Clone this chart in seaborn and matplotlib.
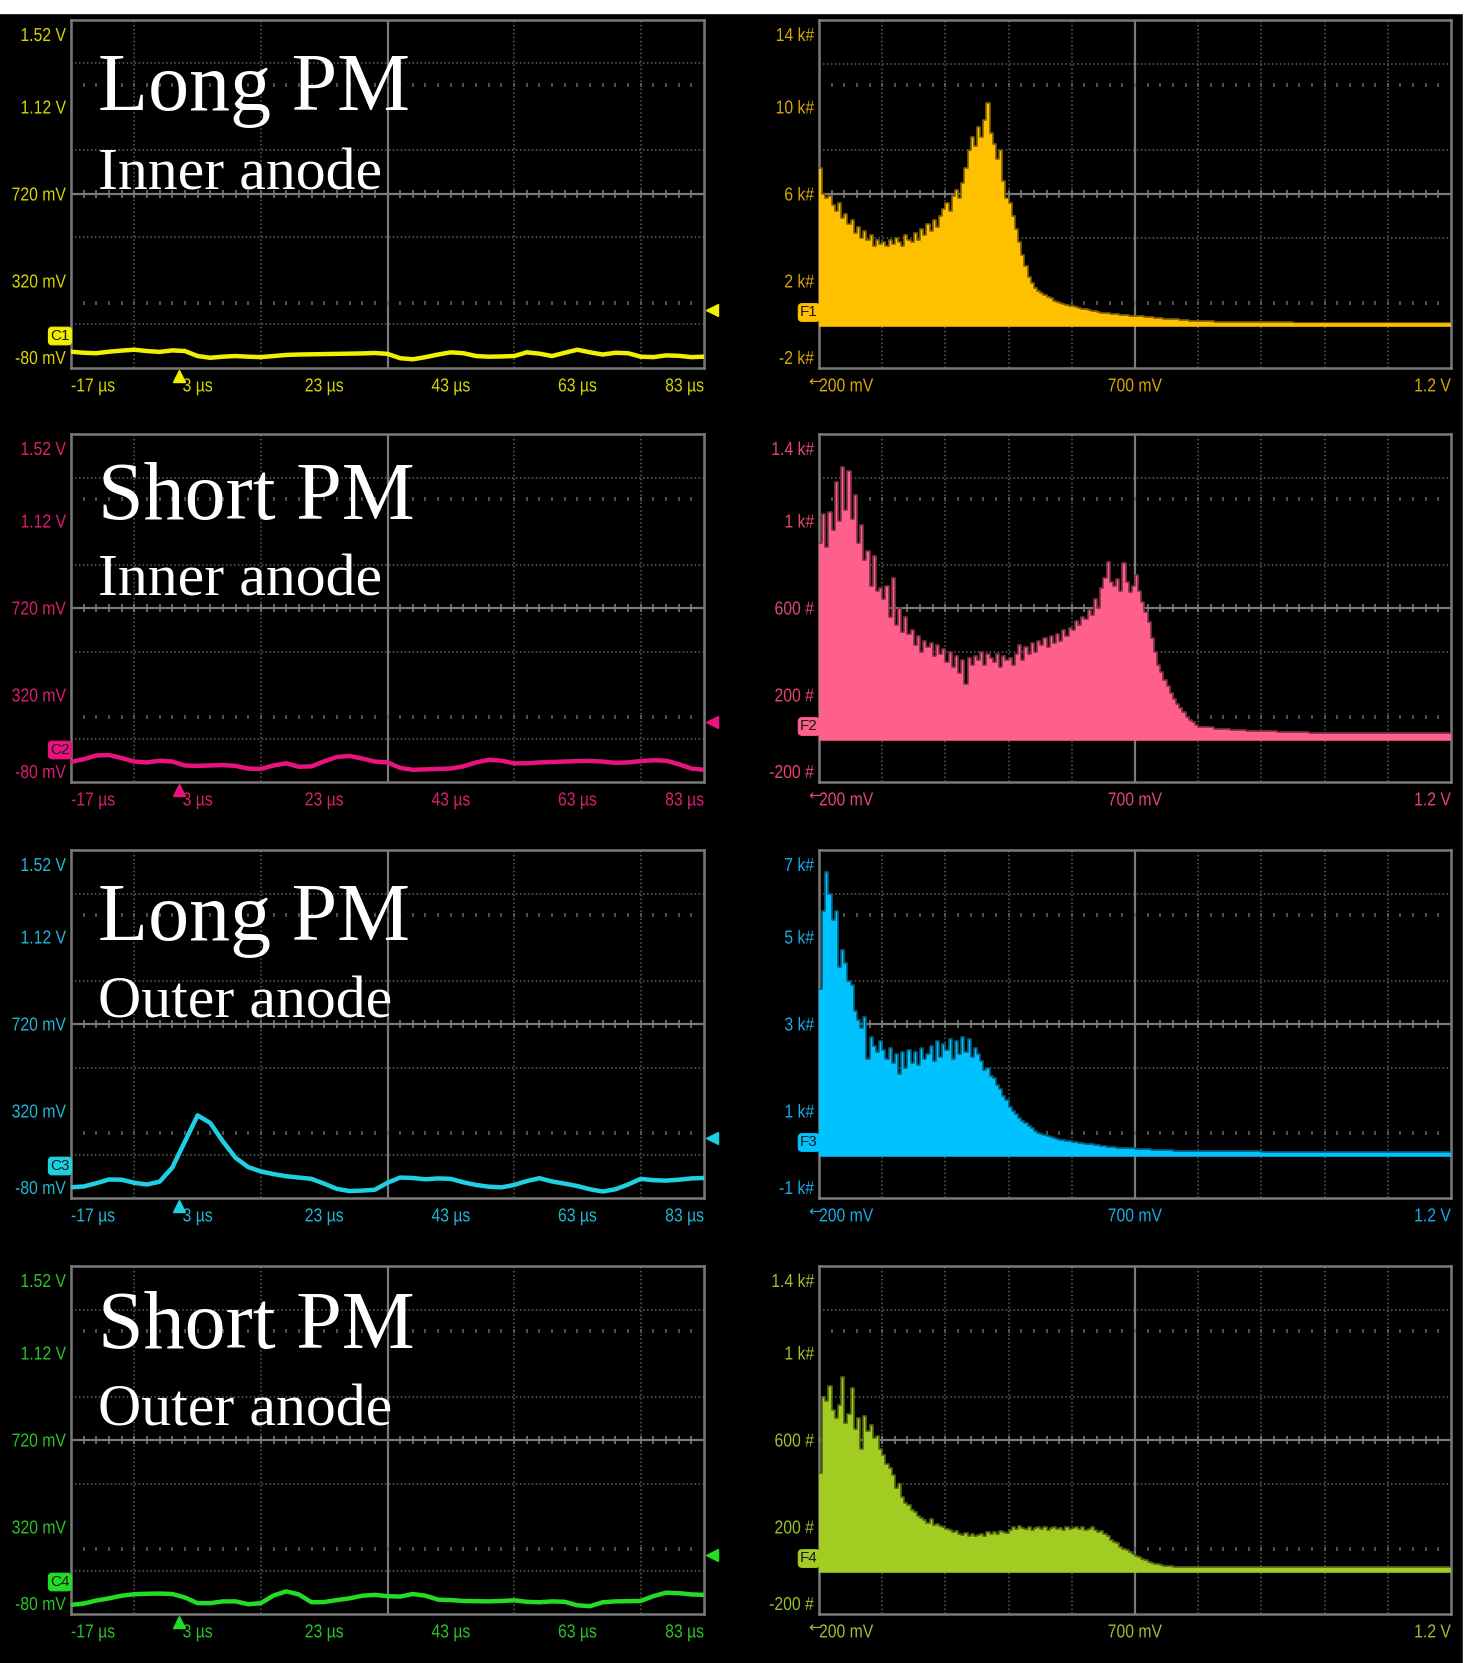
"""
Oscilloscope screenshots: PM anode signals (left) and their pulse-height
histograms (right), recreated with seaborn on a black scope-style canvas.
"""
import numpy as np
import pandas as pd
import matplotlib
matplotlib.use("Agg")
import matplotlib.pyplot as plt
import matplotlib.transforms as mtransforms
import matplotlib.patheffects as pe
from matplotlib.patches import Rectangle
import seaborn as sns

W, H = 1466, 1663

# ---- data -----------------------------------------------------------------
row_titles = ["Long PM", "Short PM", "Long PM", "Short PM"]
row_anodes = ["Inner anode", "Inner anode", "Outer anode", "Outer anode"]
trace_tags = ["C1", "C2", "C3", "C4"]
hist_tags = ["F1", "F2", "F3", "F4"]

t_us = [-17, -15, -13, -11, -9, -7, -5, -3, -1, 1, 3, 5, 7, 9, 11, 13, 15, 17,
        19, 21, 23, 25, 27, 29, 31, 33, 35, 37, 39, 41, 43, 45, 47, 49, 51, 53,
        55, 57, 59, 61, 63, 65, 67, 69, 71, 73, 75, 77, 79, 81, 83]

c1_mv = [-5, -10, -12, -5, 0, 4, -2, -6, 1, -2, -25, -33, -28, -25, -28, -30, -25,
         -20, -18, -17, -16, -15, -14, -13, -11, -15, -35, -40, -30, -18, -8, -12,
         -25, -28, -27, -25, -8, -14, -25, -10, 4, -8, -18, -10, -12, -28, -30, -22,
         -24, -30, -28]
c2_mv = [12, 25, 42, 44, 30, 14, 10, 18, 14, -4, -6, -4, -2, -6, -18, -20, -4, 6,
         -10, -8, 15, 35, 40, 28, 14, 10, -15, -24, -22, -20, -18, -8, 10, 22, 18,
         6, 6, 10, 12, 14, 16, 17, 14, 8, 10, 16, 20, 18, 2, -18, -24]
c3_mv = [-31, -27, -12, 5, 4, -10, -18, -5, 60, 180, 300, 265, 180, 105, 62, 42,
         30, 20, 14, 8, -14, -38, -48, -46, -42, -10, 14, 12, 6, 10, 8, -8, -20,
         -28, -31, -20, -2, 11, -4, -14, -25, -40, -50, -40, -18, 8, 2, 0, 4, 10, 12]
c4_mv = [-38, -32, -18, -8, 4, 11, 13, 14, 12, -4, -30, -30, -22, -22, -35, -30, 5,
         24, 10, -26, -25, -16, -8, 4, 8, 2, 0, 12, 4, -14, -16, -20, -21, -22, -20,
         -17, -24, -26, -22, -24, -40, -44, -26, -22, -21, -20, 2, 18, 16, 10, 8]

# histogram counts: 5 mV bins from 200 to 800 mV, then 25 mV bins to 1.2 V
f1_kcounts = [7.2, 6.0, 5.8, 5.9, 5.5, 5.2, 5.6, 4.9, 5.1, 4.6,
              4.8, 4.2, 4.5, 4.0, 4.3, 3.9, 4.1, 3.6, 3.9, 3.7,
              3.8, 3.6, 3.9, 3.7, 4.0, 3.8, 3.6, 4.1, 3.9, 3.8,
              4.2, 3.9, 4.4, 4.1, 4.6, 4.3, 4.8, 4.5, 5.0, 5.3,
              5.6, 5.2, 5.9, 6.2, 5.8, 6.5, 7.2, 8.0, 8.6, 8.2,
              9.1, 8.6, 9.4, 10.2, 8.8, 8.3, 7.6, 8.0, 6.6, 5.8,
              5.6, 5.0, 4.4, 3.8, 3.2, 2.7, 2.2, 1.9, 1.7, 1.55,
              1.45, 1.35, 1.25, 1.2, 1.1, 1.05, 1.0, 0.95, 0.9, 0.87,
              0.84, 0.8, 0.77, 0.72, 0.7, 0.66, 0.63, 0.6, 0.58, 0.55,
              0.53, 0.51, 0.5, 0.48, 0.46, 0.45, 0.44, 0.42, 0.41, 0.4,
              0.39, 0.38, 0.37, 0.36, 0.34, 0.33, 0.31, 0.3, 0.28, 0.27,
              0.26, 0.25, 0.24, 0.23, 0.22, 0.21, 0.2, 0.18, 0.17, 0.16,
              0.15, 0.13, 0.12, 0.11, 0.1, 0.1, 0.09, 0.09, 0.08, 0.08,
              0.08, 0.08, 0.08, 0.08, 0.08, 0.08]
f2_counts = [900, 1030, 880, 1040, 960, 1180, 1000, 1250, 1050, 1230,
             1010, 1120, 900, 980, 820, 860, 700, 840, 680, 690,
             640, 700, 560, 740, 520, 600, 490, 560, 480, 500,
             430, 470, 400, 450, 420, 440, 380, 430, 390, 410,
             350, 400, 330, 380, 300, 360, 250, 370, 340, 380,
             360, 400, 340, 390, 370, 350, 390, 330, 380, 360,
             370, 340, 390, 430, 360, 420, 390, 440, 400, 450,
             430, 460, 420, 470, 440, 480, 450, 500, 470, 510,
             500, 540, 520, 560, 550, 590, 570, 640, 600, 690,
             740, 812, 720, 700, 735, 680, 805, 720, 674, 700,
             751, 680, 628, 580, 535, 460, 397, 340, 305, 270,
             243, 210, 182, 160, 140, 120, 100, 85, 74, 62,
             52, 45, 40, 36, 33, 30, 28, 27, 26, 25,
             25, 25, 24, 24, 24, 24]
f3_kcounts = [3.8, 5.6, 6.5, 6.0, 5.4, 5.6, 4.3, 4.7, 4.4, 4.0,
              3.9, 3.3, 3.1, 2.9, 3.15, 2.2, 2.7, 2.5, 2.35, 2.6,
              2.4, 2.2, 2.45, 2.1, 2.3, 1.85, 2.35, 2.0, 2.4, 2.1,
              2.35, 2.05, 2.45, 2.2, 2.3, 2.5, 2.15, 2.6, 2.25, 2.55,
              2.4, 2.65, 2.2, 2.6, 2.3, 2.7, 2.35, 2.65, 2.25, 2.45,
              2.3, 2.15, 1.95, 2.0, 1.8, 1.75, 1.6, 1.5, 1.35, 1.25,
              1.1, 1.0, 0.92, 0.85, 0.78, 0.72, 0.66, 0.6, 0.55, 0.5,
              0.48, 0.45, 0.42, 0.4, 0.38, 0.36, 0.34, 0.33, 0.32, 0.3,
              0.29, 0.28, 0.27, 0.26, 0.25, 0.24, 0.23, 0.22, 0.21, 0.2,
              0.19, 0.18, 0.18, 0.17, 0.16, 0.16, 0.15, 0.15, 0.14, 0.14,
              0.13, 0.13, 0.12, 0.12, 0.12, 0.11, 0.11, 0.11, 0.1, 0.1,
              0.1, 0.1, 0.09, 0.09, 0.09, 0.09, 0.08, 0.08, 0.08, 0.08,
              0.08, 0.07, 0.07, 0.07, 0.06, 0.06, 0.06, 0.06, 0.06, 0.06,
              0.06, 0.06, 0.06, 0.06, 0.06, 0.06]
f4_counts = [450, 800, 780, 850, 740, 700, 760, 890, 680, 720,
             840, 650, 700, 560, 710, 640, 670, 610, 620, 560,
             530, 490, 470, 440, 380, 400, 340, 310, 300, 280,
             270, 250, 240, 230, 220, 235, 210, 215, 205, 200,
             190, 185, 175, 180, 170, 165, 172, 160, 168, 160,
             165, 170, 160, 175, 168, 178, 170, 180, 175, 172,
             185, 200, 190, 205, 195, 190, 200, 185, 195, 200,
             190, 200, 185, 195, 200, 190, 195, 188, 198, 190,
             195, 200, 190, 198, 185, 192, 200, 185, 175, 180,
             170, 160, 140, 130, 125, 110, 100, 92, 85, 78,
             68, 60, 52, 46, 40, 36, 32, 28, 25, 22,
             20, 19, 18, 17, 16, 16, 15, 15, 14, 14,
             14, 14, 14, 14, 14, 14, 14, 14, 14, 14,
             14, 14, 14, 14, 14, 14]

traces = [c1_mv, c2_mv, c3_mv, c4_mv]
hists = [[v * 1000 for v in f1_kcounts], f2_counts,
         [v * 1000 for v in f3_kcounts], f4_counts]

volt_ticks = [-80, 320, 720, 1120, 1520]
volt_labels = ["-80 mV", "320 mV", "720 mV", "1.12 V", "1.52 V"]
time_ticks = [-17, 3, 23, 43, 63, 83]
time_labels = ["-17 µs", "3 µs", "23 µs", "43 µs", "63 µs", "83 µs"]
amp_ticks = [200, 700, 1200]
amp_labels = ["200 mV", "700 mV", "1.2 V"]
count_ticks = [[-2000, 2000, 6000, 10000, 14000],
               [-200, 200, 600, 1000, 1400],
               [-1000, 1000, 3000, 5000, 7000],
               [-200, 200, 600, 1000, 1400]]
count_labels = [["-2 k#", "2 k#", "6 k#", "10 k#", "14 k#"],
                ["-200 #", "200 #", "600 #", "1 k#", "1.4 k#"],
                ["-1 k#", "1 k#", "3 k#", "5 k#", "7 k#"],
                ["-200 #", "200 #", "600 #", "1 k#", "1.4 k#"]]
trigger_mv = [187, 196, 196, 192]

# ---- styling ----------------------------------------------------------------
trace_colors = ["#f0f000", "#e8137c", "#1fd0e2", "#24dc24"]
trace_label_colors = ["#d6d600", "#d82070", "#22b6d6", "#2ac42a"]
hist_colors = ["#ffc000", "#ff5f8b", "#00c2ff", "#a3cc22"]
hist_label_colors = ["#d8a800", "#e4486c", "#18acea", "#9cc030"]
GRID = "#5e5e5e"
SPINE = "#7a7a7a"
LABEL_SIZE = 13.5
SQUEEZE = 0.84

sns.set_theme(style="dark")
plt.rcParams["font.family"] = ["Liberation Sans", "DejaVu Sans"]

row_top = [20, 434, 850, 1266]
row_h = 348
left_x = (71, 704)
right_x = (819, 1451)
title_base = [(110, 189), (519, 596), (940, 1018), (1348, 1425)]


class Condense(pe.AbstractPathEffect):
    """Squeeze glyphs horizontally around a pivot (0 left, .5 centre, 1 right),
    giving the narrow look of the scope's label font."""

    def __init__(self, sx=0.8, pivot=0.5):
        super().__init__()
        self.sx = sx
        self.pivot = pivot

    def draw_path(self, renderer, gc, tpath, affine, rgbFace=None):
        xs = tpath.vertices[:, 0]
        px = xs.min() + self.pivot * (xs.max() - xs.min()) if len(xs) else 0.0
        squeeze = (mtransforms.Affine2D().translate(-px, 0).scale(self.sx, 1)
                   .translate(px, 0))
        renderer.draw_path(gc, tpath, squeeze + affine, rgbFace)


def px_rect(x0, y0, x1, y1):
    return [x0 / W, 1 - y1 / H, (x1 - x0) / W, (y1 - y0) / H]


def scope_grid(ax, xlo, xhi, ylo, yhi):
    """Dotted 10x8 graticule with solid centre cross and tick rows."""
    xdiv = np.linspace(xlo, xhi, 11)
    ydiv = np.linspace(ylo, yhi, 9)
    ax.set_xticks(xdiv, minor=True)
    ax.set_yticks(ydiv, minor=True)
    ax.grid(False, which="major")
    ax.grid(True, which="minor", color=GRID, linestyle=(0, (1, 1.6)), linewidth=1.1)
    xc, yc = (xlo + xhi) / 2, (ylo + yhi) / 2
    ax.axhline(yc, color=SPINE, lw=1.6, zorder=1)
    ax.axvline(xc, color=SPINE, lw=1.6, zorder=1)
    fine = np.linspace(xlo, xhi, 51)[1:-1]
    ax.plot(fine, [yc] * len(fine), ls="none", marker="|", ms=6, mew=1.2,
            color=SPINE, zorder=1)
    dy = (yhi - ylo) / 8
    for yr in (ylo + 1.5 * dy, yhi - 1.5 * dy):
        ax.plot(fine, [yr] * len(fine), ls="none", marker="|", ms=2.5, mew=1.2,
                color=GRID, zorder=1)
    ax.set_facecolor("black")
    for s in ax.spines.values():
        s.set_color(SPINE)
        s.set_linewidth(1.8)
        s.set_visible(True)
    ax.tick_params(which="both", length=0)


def set_labels(fig, ax, xt, xl, yt, yl, color):
    ax.set_xticks(xt, xl)
    ax.set_yticks(yt, yl)
    ax.tick_params(axis="x", which="major", pad=7.5, labelsize=LABEL_SIZE, colors=color)
    ax.tick_params(axis="y", which="major", pad=3.5, labelsize=LABEL_SIZE, colors=color)
    xls = ax.get_xticklabels()
    for k, lab in enumerate(xls):
        piv = 0.0 if k == 0 else (1.0 if k == len(xls) - 1 else 0.5)
        lab.set_path_effects([Condense(SQUEEZE, piv)])
    xls[0].set_ha("left")
    xls[-1].set_ha("right")
    yls = ax.get_yticklabels()
    for lab in yls:
        lab.set_path_effects([Condense(SQUEEZE, 1.0)])
    yls[0].set_va("bottom")
    yls[-1].set_va("top")
    shift = mtransforms.ScaledTranslation(0, -8 / 100, fig.dpi_scale_trans)
    yls[-1].set_transform(yls[-1].get_transform() + shift)


def badge(fig, x, y, text, color):
    fig.text(x / W, 1 - y / H, text, ha="center", va="center", fontsize=11,
             color="#1a1a1a", family=["Liberation Sans", "DejaVu Sans"],
             bbox=dict(boxstyle="round,pad=0.12,rounding_size=0.25",
                       fc=color, ec=color, lw=0.8))


fig = plt.figure(figsize=(W / 100, H / 100), dpi=100, facecolor="black")

fine_edges = np.linspace(200, 800, 121)
tail_edges = np.linspace(800, 1200, 17)[1:]
edges = [float(e) for e in np.concatenate([fine_edges, tail_edges])]
centers = [(a + b) / 2 for a, b in zip(edges[:-1], edges[1:])]

for i in range(4):
    top = row_top[i]
    bot = top + row_h

    # --- left: time-domain trace
    ax = fig.add_axes(px_rect(left_x[0], top, left_x[1], bot))
    scope_grid(ax, -17, 83, -80, 1520)
    trace_df = pd.DataFrame({"t": t_us, "mv": traces[i]})
    sns.lineplot(data=trace_df, x="t", y="mv", color=trace_colors[i], lw=3.2,
                 solid_joinstyle="round", solid_capstyle="round", ax=ax, zorder=3)
    ax.set_xlim(-17, 83)
    ax.set_ylim(-80, 1520)
    ax.set_xlabel("")
    ax.set_ylabel("")
    set_labels(fig, ax, time_ticks, time_labels, volt_ticks, volt_labels,
               trace_label_colors[i])
    # trigger level (right) and trigger time (bottom) markers
    tr = mtransforms.blended_transform_factory(ax.transAxes, ax.transData)
    ax.plot([1.012], [trigger_mv[i]], marker="<", ms=9, color=trace_colors[i],
            transform=tr, clip_on=False)
    tb = mtransforms.blended_transform_factory(ax.transData, ax.transAxes)
    ax.plot([0], [-0.022], marker="^", ms=8, color=trace_colors[i],
            transform=tb, clip_on=False)
    badge(fig, 60, top + 316, trace_tags[i], trace_colors[i])

    # --- right: pulse-height histogram
    ylo, yhi = count_ticks[i][0], count_ticks[i][-1]
    hx = fig.add_axes(px_rect(right_x[0], top, right_x[1], bot))
    scope_grid(hx, 200, 1200, ylo, yhi)
    hist_df = pd.DataFrame({"mv": centers, "n": hists[i]})
    sns.histplot(data=hist_df, x="mv", weights="n", bins=edges, element="step",
                 fill=True, color=hist_colors[i], alpha=1.0, linewidth=0,
                 ax=hx, zorder=3)
    dark = tuple(0.5 * np.array(matplotlib.colors.to_rgb(hist_colors[i])))
    sns.histplot(data=hist_df, x="mv", weights="n", bins=edges, element="step",
                 fill=False, color=dark, linewidth=1.2, ax=hx, zorder=4)
    hx.axhline(0, color=hist_colors[i], lw=2.6, zorder=5)
    hx.set_xlim(200, 1200)
    hx.set_ylim(ylo, yhi)
    hx.set_xlabel("")
    hx.set_ylabel("")
    set_labels(fig, hx, amp_ticks, amp_labels, count_ticks[i], count_labels[i],
               hist_label_colors[i])
    zero_px = bot - row_h / 8
    badge(fig, 809, zero_px - 12, hist_tags[i], hist_colors[i])
    fig.text(815 / W, 1 - (bot + 14) / H, "←", ha="center", va="center",
             fontsize=11, color=hist_label_colors[i],
             family=["DejaVu Sans"])

    # --- overlay captions
    b1, b2 = title_base[i]
    fig.text(98 / W, 1 - b1 / H, row_titles[i], ha="left", va="baseline",
             fontsize=59, color="white", family=["Liberation Serif", "DejaVu Serif"])
    fig.text(98 / W, 1 - b2 / H, row_anodes[i], ha="left", va="baseline",
             fontsize=43, color="white", family=["Liberation Serif", "DejaVu Serif"])

# white page margin above the screenshot
fig.patches.append(Rectangle((0, 1 - 13 / H), 1, 13 / H, transform=fig.transFigure,
                             color="white", zorder=10))
fig.patches.append(Rectangle((1 - 3 / W, 0), 3 / W, 1, transform=fig.transFigure,
                             color="white", zorder=10))

fig.savefig("out.png", dpi=100, facecolor="black")
